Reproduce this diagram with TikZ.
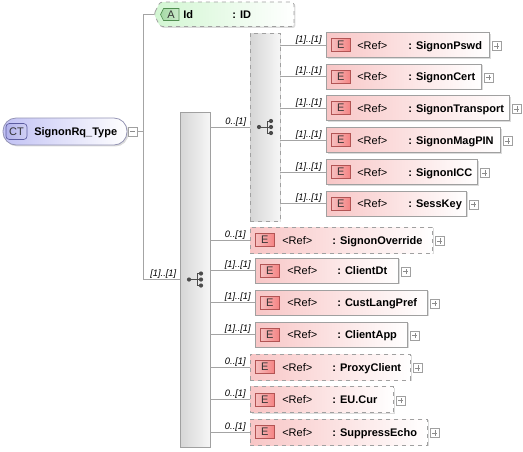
\documentclass[tikz,border=0pt]{standalone}
\usepackage{fontspec}
\setmainfont{Liberation Sans}
\usepackage{tikz}
\usetikzlibrary{positioning}
\usetikzlibrary{shadows}

\definecolor{linegray}{HTML}{A4A4A4}
\definecolor{boxedge}{HTML}{A0A0A0}
\definecolor{elempink}{HTML}{F8C6C6}
\definecolor{badgefill}{HTML}{F2A4A4}
\definecolor{badgeedge}{HTML}{B25454}
\definecolor{ctfill}{HTML}{C2C2F4}
\definecolor{ctedge}{HTML}{9494B4}
\definecolor{ctbadge}{HTML}{B2B2EC}
\definecolor{ctbadgeedge}{HTML}{5C5CA0}
\definecolor{attrfill}{HTML}{D2F6D2}
\definecolor{abadge}{HTML}{A6DAA6}
\definecolor{abadgeedge}{HTML}{508E50}
\definecolor{seqleft}{HTML}{D6D6D6}
\definecolor{seqright}{HTML}{F6F6F6}

\newcommand\elemfont{\fontsize{8.25}{10}\selectfont}
\newcommand\cardfont{\fontsize{7}{8}\selectfont\itshape}

\tikzset{
  conn/.style={draw=linegray, line width=0.6pt},
  softshadow/.style={drop shadow={shadow xshift=1.1pt, shadow yshift=-1.1pt, fill=black, opacity=0.14}},
  elembox/.style={draw=boxedge, left color=elempink, right color=white, line width=0.6pt,
    minimum height=18.75pt, inner sep=0pt, anchor=west, softshadow},
  optbox/.style={elembox, dashed, minimum height=19.5pt},
  ebadge/.style={draw=badgeedge, left color=badgefill!70!white, right color=badgefill!80!red,
    line width=0.5pt, minimum width=14.25pt, minimum height=9.75pt, inner sep=0pt, anchor=west,
    font=\elemfont, text=black!80},
  reftext/.style={anchor=base west, inner sep=0pt, font=\elemfont},
  nametext/.style={anchor=base west, inner sep=0pt, font=\elemfont\bfseries},
  card/.style={anchor=base east, inner sep=0pt, font=\cardfont},
  plusbox/.style={draw=boxedge, fill=white, line width=0.4pt, minimum size=6.75pt, inner sep=0pt,
    anchor=west, path picture={
      \draw[black!45, line width=0.4pt] ([xshift=-2pt]path picture bounding box.center) -- ([xshift=2pt]path picture bounding box.center);
      \draw[black!45, line width=0.4pt] ([yshift=-2pt]path picture bounding box.center) -- ([yshift=2pt]path picture bounding box.center);}},
  seqbox/.style={draw=boxedge, left color=seqleft, right color=seqright, line width=0.6pt,
    minimum width=22.5pt, inner sep=0pt, softshadow},
  seqdot/.style={fill=black!70},
}

\begin{document}
\begin{tikzpicture}[x=0.75pt, y=-0.75pt]
  \useasboundingbox (0,0) rectangle (523,451);

  % complex type
  \node[draw=ctedge, left color=ctfill, right color=white, line width=0.6pt, rounded corners=9.75pt,
    minimum width=93pt, minimum height=20.25pt, inner sep=0pt, softshadow] (ct) at (65,131.5) {};
  \node[draw=ctbadgeedge, left color=ctbadge, right color=ctbadge!60!white, rounded corners=2.5pt,
    line width=0.5pt, minimum width=15.75pt, minimum height=12pt, inner sep=0pt, font=\elemfont,
    text=black!80] (ctbadge) at (16.5,131.5) {CT};
  \node[nametext] (ctname) at (34,135.5) {SignonRq\_Type};
  \node[draw=boxedge, fill=white, line width=0.4pt, minimum size=6.75pt, inner sep=0pt,
    path picture={\draw[black!45, line width=0.4pt] ([xshift=-2pt]path picture bounding box.center) -- ([xshift=2pt]path picture bounding box.center);}]
    (ctminus) at (132.5,131.5) {};
  \coordinate (fork) at (143,131.5);

  % attribute Id
  \draw[draw=boxedge, dashed, line width=0.6pt, left color=attrfill, right color=white, softshadow,
    rounded corners=2pt] (154,14) -- (160,2) -- (294,2) -- (294,26.5) -- (160,26.5) -- cycle;
  \coordinate (idtip) at (154,14);
  \draw[draw=abadgeedge, line width=0.5pt, left color=abadge, right color=abadge!60!white]
    (160.5,14.5) -- (163.5,8.5) -- (179,8.5) -- (179,20.5) -- (163.5,20.5) -- cycle;
  \node[inner sep=0pt, font=\elemfont, text=black!80] (abadge) at (171,14.5) {A};
  \node[nametext] (idname) at (183,18.5) {Id};
  \node[nametext] (idtype) at (232,18.5) {: ID};

  % compositors
  \node[seqbox, minimum height=251.25pt] (seqouter) at (195,279.5) {};
  \node[seqbox, dashed, minimum height=141pt] (seqinner) at (265,127) {};
  \foreach \c in {seqouter, seqinner} {
    \begin{scope}[shift={(\c.center)}]
      \draw[black!70, line width=0.6pt] (-6,0) -- (2,0) (2,-6) -- (2,6)
        (2,-6) -- (6,-6) (2,6) -- (6,6) (2,0) -- (6,0);
      \fill[seqdot] (-6,0) circle (2.1) (6,-6) circle (2.1) (6,0) circle (2.1) (6,6) circle (2.1);
    \end{scope}
  }

  % connectors from the type
  \draw[conn] (ctminus.east) -- (fork);
  \draw[conn] (fork) |- (idtip);
  \draw[conn] (fork) |- (seqouter.west);
  \node[card] (outercard) at (176.5,276) {[1]..[1]};
  \draw[conn] (seqouter.east |- seqinner.west) -- (seqinner.west);
  \node[card] (innercard) at (246.5,124) {0..[1]};

  % elements of the inner sequence
  \foreach \nm/\y/\w [count=\i] in {SignonPswd/45/163, SignonCert/76.5/155, SignonTransport/108/183,
      SignonMagPIN/140/174, SignonICC/172/151, SessKey/203.5/140} {
    \node[elembox, minimum width=\w*0.75pt] (in\i) at (326,\y) {};
    \node[ebadge] (in\i-b) at (331,\y) {E};
    \node[reftext] (in\i-r) at (357,\y+4) {<Ref>};
    \node[nametext] (in\i-n) at (408,\y+4) {: \nm};
    \node[plusbox] (in\i-p) at (326+\w+3,\y+1) {};
    \node[card] (in\i-c) at (322,\y-3) {[1]..[1]};
    \draw[conn] (seqinner.east |- in\i.west) -- (in\i.west);
  }

  % elements of the outer sequence
  \foreach \nm/\y/\x/\w/\st/\lab [count=\i] in {SignonOverride/240/250/182/optbox/{0..[1]},
      ClientDt/270.5/255/143/elembox/{[1]..[1]}, CustLangPref/302.5/255/172/elembox/{[1]..[1]},
      ClientApp/334.5/255/152/elembox/{[1]..[1]}, ProxyClient/367/250/160/optbox/{0..[1]},
      EU.Cur/399.5/250/143/optbox/{0..[1]}, SuppressEcho/432/250/177/optbox/{0..[1]}} {
    \node[\st, minimum width=\w*0.75pt] (out\i) at (\x,\y) {};
    \node[ebadge] (out\i-b) at (\x+5,\y) {E};
    \node[reftext] (out\i-r) at (\x+32,\y+4) {<Ref>};
    \node[nametext] (out\i-n) at (\x+82,\y+4) {: \nm};
    \node[plusbox] (out\i-p) at (\x+\w+3,\y+1) {};
    \node[card] (out\i-c) at (\x-4,\y-3) {\lab};
    \draw[conn] (seqouter.east |- out\i.west) -- (out\i.west);
  }
\end{tikzpicture}
\end{document}
